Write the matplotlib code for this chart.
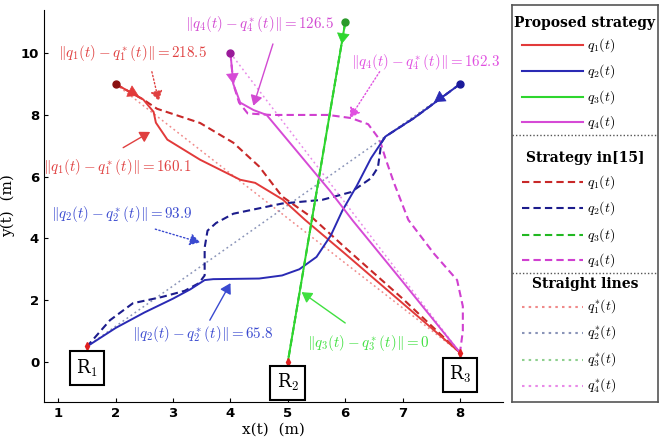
import matplotlib
matplotlib.use("Agg")
import matplotlib.pyplot as plt
from matplotlib.lines import Line2D

plt.rcParams['mathtext.fontset'] = 'cm'
plt.rcParams['font.family'] = 'DejaVu Serif'

# robots (targets) and agent start points
robots = {"R$_1$": (1.5, 0.5), "R$_2$": (5.0, 0.0), "R$_3$": (8.0, 0.3)}
robot_label_pos = [(1.5, -0.2), (5.0, -0.68), (8.0, -0.42)]
starts = [(2, 9), (8, 9), (6, 11), (4, 10)]
goals = [(8, 0.3), (1.5, 0.5), (5, 0), (8, 0.3)]

# proposed strategy (solid)
q1_x = [2, 2.48, 2.66, 2.7, 2.9, 3.47, 4.17, 4.43, 4.91, 5.3, 6.0, 7.0, 8]
q1_y = [9, 8.5, 8.1, 7.75, 7.2, 6.55, 5.9, 5.8, 5.26, 4.6, 3.5, 1.9, 0.3]
q2_x = [8, 7.2, 6.7, 6.45, 6.2, 5.95, 5.75, 5.5, 5.2, 4.9, 4.5, 3.7, 3.55, 3.3, 3.0, 2.5, 2.0, 1.5]
q2_y = [9, 7.9, 7.3, 6.6, 5.7, 4.9, 4.1, 3.4, 3.0, 2.8, 2.7, 2.68, 2.65, 2.35, 2.05, 1.6, 1.1, 0.5]
q3_x = [6, 5]
q3_y = [11, 0]
q4_x = [4, 4.05, 4.17, 4.4, 4.63, 5.73, 6.13, 7.0, 8]
q4_y = [10, 9.0, 8.4, 8.16, 8.0, 5.55, 4.58, 2.6, 0.3]

# strategy in [15] (dashed)
d1_x = [2, 2.48, 2.72, 3.47, 4.05, 4.5, 4.9, 5.44, 6.0, 7.0, 8]
d1_y = [9, 8.5, 8.2, 7.74, 7.1, 6.33, 5.36, 4.65, 3.7, 2.05, 0.3]
d2_x = [8, 7.2, 6.7, 6.63, 6.57, 6.45, 6.1, 5.6, 4.9, 4.05, 3.75, 3.6, 3.55, 3.55, 3.45, 3.2, 2.8, 2.3, 1.9, 1.5]
d2_y = [9, 7.9, 7.3, 7.1, 6.3, 5.95, 5.5, 5.25, 5.13, 4.8, 4.5, 4.25, 3.7, 2.8, 2.55, 2.3, 2.1, 1.9, 1.35, 0.5]
d3_x = [6, 5]
d3_y = [11, 0]
d4_x = [4, 4.05, 4.15, 4.3, 4.7, 5.7, 6.1, 6.4, 6.6, 6.7, 6.85, 7.1, 7.55, 7.95, 8.05, 8.05, 8]
d4_y = [10, 9.0, 8.4, 8.05, 8.0, 8.0, 7.9, 7.7, 7.2, 6.6, 5.8, 4.6, 3.5, 2.65, 1.8, 1.0, 0.3]

solid_colors = ['#e23a3a', '#2a2ab4', '#2ed62e', '#d64ad6']
dash_colors = ['#c82828', '#1c1c8c', '#22b822', '#d040d0']
dot_colors = ['#f08a8a', '#8a94b8', '#8fd08f', '#e88ae8']
start_colors = ['#8a1010', '#1a1a9a', '#2a9a2a', '#9a1a9a']

fig = plt.figure(figsize=(6.6, 4.45), dpi=100)
ax = fig.add_axes([44/660, 1-402/445, (503-44)/660, (402-10)/445])

# straight lines
for (s, g), c in zip(zip(starts, goals), dot_colors):
    ax.plot([s[0], g[0]], [s[1], g[1]], ls=(0, (1.2, 2)), color=c, lw=1.1)

for xs, ys, c in zip([d1_x, d2_x, d3_x, d4_x], [d1_y, d2_y, d3_y, d4_y], dash_colors):
    ax.plot(xs, ys, ls=(0, (3.5, 2)), color=c, lw=1.5)

for xs, ys, c in zip([q1_x, q2_x, q3_x, q4_x], [q1_y, q2_y, q3_y, q4_y], solid_colors):
    ax.plot(xs, ys, '-', color=c, lw=1.4)

# direction arrows near the starts (tail, head)
arrow_pts = [((2.1, 8.9), (2.4, 8.62)), ((7.85, 8.8), (7.55, 8.42)),
             ((5.98, 10.8), (5.94, 10.3)), ((4.02, 9.6), (4.05, 9.0))]
for (p0, p1), c in zip(arrow_pts, solid_colors):
    ax.annotate('', xy=p1, xytext=p0,
                arrowprops=dict(arrowstyle='-|>,head_length=0.5,head_width=0.3', color=c,
                                lw=0.5, mutation_scale=14, shrinkA=0, shrinkB=0))

for s, c in zip(starts, start_colors):
    ax.plot(s[0], s[1], 'o', color=c, ms=5)
for p in robots.values():
    ax.plot(p[0], p[1], 'd', color='#e02020', ms=4)

for (name, p), lp in zip(robots.items(), robot_label_pos):
    ax.text(lp[0], lp[1], name, ha='center', va='center', fontsize=13, family='DejaVu Serif',
            bbox=dict(boxstyle='square,pad=0.35', fc='white', ec='black', lw=1.5))

# annotations
ann = [
    (r'$\|q_1(t)-q_1^*(t)\|=218.5$', (1.0, 10.0), (2.63, 9.4), (2.75, 8.45), '#e04040', 'dotted'),
    (r'$\|q_1(t)-q_1^*(t)\|=160.1$', (0.73, 6.3), (2.13, 6.94), (2.6, 7.45), '#e04040', 'solid'),
    (r'$\|q_4(t)-q_4^*(t)\|=126.5$', (3.2, 10.95), (4.74, 10.3), (4.4, 8.3), '#d24ad2', 'solid'),
    (r'$\|q_4(t)-q_4^*(t)\|=162.3$', (6.1, 9.7), (6.6, 9.4), (6.08, 7.9), '#e050e0', 'dotted'),
    (r'$\|q_2(t)-q_2^*(t)\|=93.9$', (0.88, 4.8), (2.69, 4.3), (3.47, 3.87), '#3a4ad0', 'dotted'),
    (r'$\|q_2(t)-q_2^*(t)\|=65.8$', (2.28, 0.9), (3.64, 1.35), (4.0, 2.55), '#3a4ad0', 'solid'),
    (r'$\|q_3(t)-q_3^*(t)\|=0$', (5.33, 0.6), (6.0, 1.26), (5.24, 2.26), '#40e040', 'solid'),
]
for txt, tp, a0, a1, c, ls in ann:
    ax.text(tp[0], tp[1], txt, color=c, fontsize=10.8, ha='left', va='center')
    ax.annotate('', xy=a1, xytext=a0,
                arrowprops=dict(arrowstyle='-|>,head_length=0.5,head_width=0.3', color=c,
                                lw=1.0, ls=ls, mutation_scale=12, shrinkA=0, shrinkB=0))

ax.set_xlim(0.75, 8.75)
ax.set_ylim(-1.3, 11.4)
ax.set_xticks(range(1, 9))
ax.set_yticks([0, 2, 4, 6, 8, 10])
for lab in ax.get_xticklabels() + ax.get_yticklabels():
    lab.set_fontweight('bold')
    lab.set_family('DejaVu Sans')
    lab.set_fontsize(9.5)
ax.tick_params(direction='in', length=3)
ax.spines['top'].set_visible(False)
ax.spines['right'].set_visible(False)
ax.set_xlabel('x(t)  (m)', fontsize=11, labelpad=2)
ax.set_ylabel('y(t)  (m)', fontsize=11, labelpad=4)

# legend panel
lg = fig.add_axes([512/660, 1-402/445, (658-512)/660, (402-5)/445])
lg.set_xlim(512, 658)
lg.set_ylim(402, 5)
lg.set_xticks([])
lg.set_yticks([])
for sp in lg.spines.values():
    sp.set_color('#555555')
    sp.set_linewidth(1.2)

groups = [
    ('Proposed strategy', 23, '-', solid_colors, [45, 71, 97, 122], r'$q_{%d}(t)$'),
    ('Strategy in[15]', 158, (0, (3.5, 2)), dash_colors, [182, 208, 235, 260], r'$q_{%d}(t)$'),
    ('Straight lines', 284, (0, (1.2, 2)), dot_colors, [307, 333, 360, 386], r'$q_{%d}^{*}(t)$'),
]
for title, ty, ls, cols, ys, fmt in groups:
    lg.text(585, ty, title, ha='center', va='center', fontsize=10, fontweight='bold')
    for i, (c, y) in enumerate(zip(cols, ys)):
        lg.add_line(Line2D([522, 583], [y, y], ls=ls, color=c, lw=1.5))
        lg.text(587, y, fmt % (i + 1), ha='left', va='center', fontsize=10)
for y in [135, 273]:
    lg.add_line(Line2D([512, 658], [y, y], ls=(0, (1, 1.5)), color='#555555', lw=1))

fig.savefig('out.png', dpi=100)
